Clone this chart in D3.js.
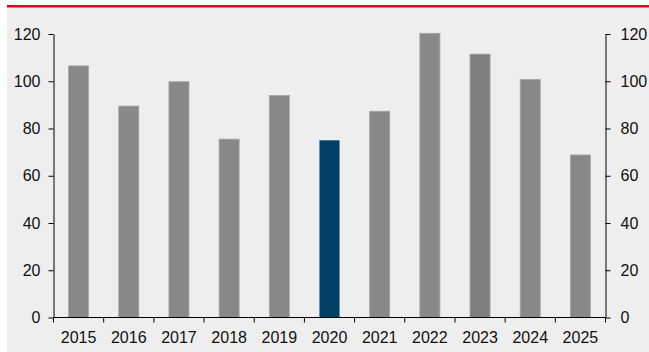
<!DOCTYPE html>
<html>
<head>
<meta charset="utf-8">
<script src="https://cdn.jsdelivr.net/npm/d3@7/dist/d3.min.js"></script>
<style>
  html, body { margin: 0; padding: 0; background: #ffffff; }
  svg { display: block; }
  text { font-family: "Liberation Sans", Arial, sans-serif; }
</style>
</head>
<body>
<svg id="chart" width="649" height="352"></svg>
<script>
const years = ["2015","2016","2017","2018","2019","2020","2021","2022","2023","2024","2025"];
const values = [106.5, 89.5, 99.8, 75.5, 94, 75, 87.3, 120.3, 111.5, 100.8, 68.8];
const barColors = ["#888888","#888888","#888888","#888888","#888888","#003f66","#888888","#888888","#7f7f7f","#888888","#888888"];
const yTicks = [0, 20, 40, 60, 80, 100, 120];

const W = 649, H = 352;
const mLeft = 53.5, mRight = 605.5, mTop = 34, mBottom = 317.5;

const svg = d3.select("#chart");

// panel background
svg.append("rect").attr("x", 7).attr("y", 7).attr("width", W - 7).attr("height", H - 7).attr("fill", "#eeeeee");
// red top rule
svg.append("rect").attr("x", 7).attr("y", 5).attr("width", W - 7).attr("height", 2.5).attr("fill", "#e0001b");

const x = d3.scaleBand().domain(years).range([mLeft, mRight]).paddingInner(0.6).paddingOuter(0.3);
const y = d3.scaleLinear().domain([0, 120]).range([mBottom, mTop]);

// bars
svg.append("g").selectAll("rect").data(years).join("rect")
  .attr("x", (d) => x(d))
  .attr("width", x.bandwidth())
  .attr("y", (d, i) => y(values[i]))
  .attr("height", (d, i) => mBottom - y(values[i]))
  .attr("fill", (d, i) => barColors[i])
  .attr("stroke", (d, i) => i === 5 ? "none" : "#a8a8a8")
  .attr("stroke-width", 0.8);

function styleAxis(g) {
  g.selectAll("path").attr("stroke", "#000").attr("stroke-width", 1);
  g.selectAll("line").attr("stroke", "#000").attr("stroke-width", 1);
  g.selectAll("text").attr("fill", "#111").attr("font-size", 16);
}

// left axis
svg.append("g").attr("transform", `translate(${mLeft},0)`)
  .call(d3.axisLeft(y).tickValues(yTicks).tickSize(5).tickSizeOuter(0).tickPadding(8))
  .call(styleAxis);

// right axis
svg.append("g").attr("transform", `translate(${mRight},0)`)
  .call(d3.axisRight(y).tickValues(yTicks).tickSize(5).tickSizeOuter(0).tickPadding(10))
  .call(styleAxis);

// bottom axis (labels)
const gx = svg.append("g").attr("transform", `translate(0,${mBottom})`)
  .call(d3.axisBottom(x).tickSize(0).tickSizeOuter(0).tickPadding(13.8))
  .call(styleAxis);
gx.select("path").attr("d", `M${mLeft},0H${mRight}`);

// boundary ticks on the category axis
const bounds = years.map((d) => x(d) - x.step() * x.paddingInner() / 2);
bounds.push(mRight);
gx.selectAll("line.bt").data(bounds).join("line").attr("class", "bt")
  .attr("x1", (d) => d).attr("x2", (d) => d)
  .attr("y1", 0).attr("y2", 5)
  .attr("stroke", "#000").attr("stroke-width", 1);
</script>
</body>
</html>
